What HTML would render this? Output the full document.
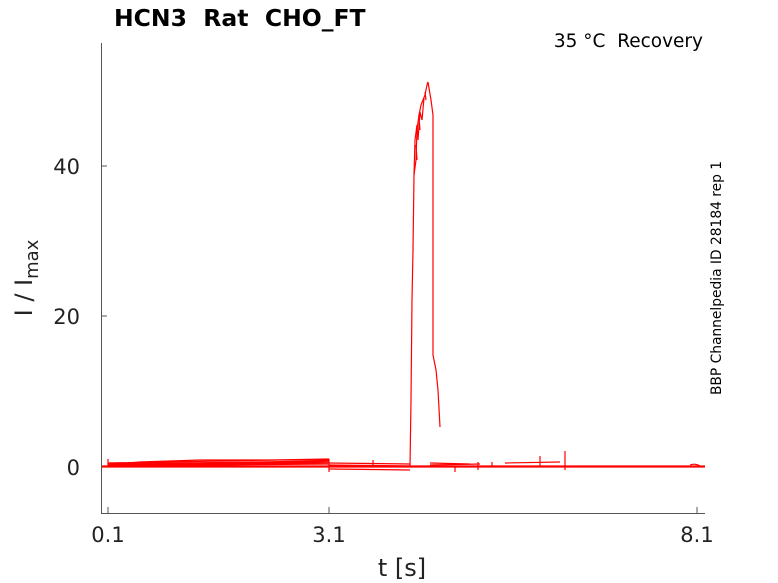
<!DOCTYPE html>
<html><head><style>body{margin:0;background:#fff}svg{display:block}text{white-space:pre}</style></head><body>
<svg width="778" height="583" xmlns="http://www.w3.org/2000/svg" font-family="'DejaVu Sans','Liberation Sans',sans-serif">
<rect width="778" height="583" fill="#fff"/>
<g stroke="#555" stroke-width="1" fill="none">
<path d="M101.5 43V513.5H705"/>
<path d="M108 513V507M329 513V507M697 513V507M101 467H107M101 316H107M101 166H107"/>
</g>
<g fill="#222" font-size="21">
<text x="108" y="542" text-anchor="middle">0.1</text>
<text x="329" y="542" text-anchor="middle">3.1</text>
<text x="697" y="542" text-anchor="middle">8.1</text>
<text x="80" y="475" text-anchor="end">0</text>
<text x="80" y="174" text-anchor="end">40</text>
<text x="80" y="324" text-anchor="end">20</text>
<text x="402" y="576" text-anchor="middle" font-size="24">t [s]</text>
<text transform="translate(32,278) rotate(-90)" text-anchor="middle" font-size="24">I / I<tspan font-size="18" dy="6">max</tspan></text>
</g>
<text x="114" y="26" font-size="23.5" font-weight="bold" fill="#000">HCN3  Rat  CHO_FT</text>
<text x="703" y="47" font-size="18.5" text-anchor="end" fill="#000">35 °C  Recovery</text>
<text transform="translate(721,278) rotate(-90)" font-size="13.8" text-anchor="middle" fill="#000">BBP Channelpedia ID 28184 rep 1</text>
<g stroke="#f00" fill="none" stroke-width="1.2">
<path d="M102 466H705"/>
<path d="M102 467H705"/>
<path d="M108 465 L140 462 L200 460 L260 460 L329 460" />
<path d="M108 464 L329 461 M108 463 L329 459 M130 464 L329 462 M110 465 L329 463 M110 466 L329 464"/>
<path d="M108 459V467M329 459V472M430 465 L480 464 M478 462V470 M505 463 L560 462 M540 456V467 M565 451V470 M690 465 Q695 463 700 466 M373 460V466 M455 466V472 M492 462V467"/>
<path d="M329 463 L410 464 M329 469 L410 470 M329 465 L410 466 M430 463 L470 464"/>
<path d="M410 467 L411 400 L412 300 L413 250 L414 175 L416 160 L417 130 L419 115 L421 105 L423 100 L425 95 L427 85 L428 82 L429 88 L431 100 L433 115 L433 355 L436 370 L438 390 L440 427"/>
<path d="M414 175 L415 140 L417 125 L418 140 L420 112 L422 120 L424 98 M416 145 L417 160 M419 118 L420 130 M425 92 L426 100"/>
</g>
</svg>
</body></html>
